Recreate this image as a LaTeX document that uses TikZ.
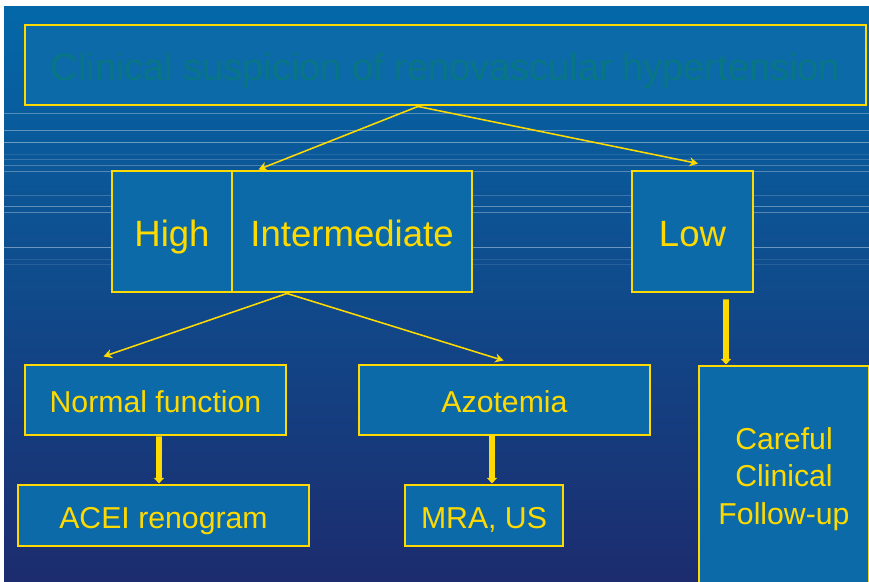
\documentclass[tikz,border=0pt]{standalone}
\usepackage{fontspec}
\setmainfont{Liberation Sans}
\usetikzlibrary{
  arrows.meta,
  calc
}
\definecolor{slidetop}{RGB}{4,104,168}
\definecolor{slidemid}{RGB}{2,74,140}
\definecolor{slidebot}{RGB}{28,44,110}
\definecolor{boxfill}{RGB}{12,106,168}
\definecolor{gold}{RGB}{255,218,0}
\definecolor{teal}{RGB}{8,118,132}
\newcommand{\pxu}{0.025cm}
\tikzset{
  box/.style={
    draw=gold,
    fill=boxfill,
    line width=2.1pt,
    inner sep=0pt,
    align=center,
    text=gold
  },
  big/.style={font=\fontsize{26}{31}\selectfont,text height=22pt,text depth=0pt},
  mid/.style={font=\fontsize{21.5}{26.5}\selectfont},
  one line/.style={text height=17.8pt,text depth=0pt},
  thin flow/.style={-{Stealth[length=6pt,width=6.5pt]},line width=1.1pt,draw=gold},
  thick flow/.style={-{Triangle[length=4pt,width=7pt]},line width=4pt,draw=gold}
}

\begin{document}
\begin{tikzpicture}[x=\pxu,y=-\pxu]
  \clip (0,0) rectangle (869,582);
  \fill[white] (0,0) rectangle (869,582);
  \shade[top color=slidetop,middle color=slidemid,bottom color=slidebot] (4,7) rectangle (869,582);
  % faint rules on the slide
  \foreach \ry/\op in {113/0.3,130/0.35,142/0.4,154/0.1,159/0.18,165/0.25,171/0.3,
                       195/0.18,206/0.35,212/0.3,247/0.4,259/0.1,264/0.1}
    \draw[white,opacity=\op,line width=0.6pt] (4,\ry) -- (869,\ry);

  \node[box,minimum width=841*\pxu,minimum height=80*\pxu,text=teal,
    font=\fontsize{27}{32}\selectfont,text height=21.4pt,text depth=0pt] (title) at (445.5,65)
    {Clinical suspicion of renovascular hypertension};

  \node[box,big,minimum width=120*\pxu,minimum height=121*\pxu] (high) at (172,231.5) {High};
  \node[box,big,minimum width=240*\pxu,minimum height=121*\pxu] (inter) at (352,231.5) {Intermediate};
  \node[box,big,minimum width=121*\pxu,minimum height=121*\pxu] (low) at (692.5,231.5) {Low};

  \node[box,mid,one line,minimum width=261*\pxu,minimum height=70*\pxu] (normal) at (155.5,400) {Normal function};
  \node[box,mid,one line,minimum width=291*\pxu,minimum height=70*\pxu] (azot) at (504.5,400) {Azotemia};
  \node[box,mid,one line,minimum width=291*\pxu,minimum height=61*\pxu] (acei) at (163.5,515.5) {ACEI renogram};
  \node[box,mid,one line,minimum width=158*\pxu,minimum height=61*\pxu] (mra) at (484,515.5) {MRA, US};
  \node[box,mid,minimum width=170*\pxu,minimum height=226*\pxu] (careful) at (784,479)
    {Careful\\Clinical\\Follow-up};

  \draw[thin flow] ($(title.south)+(-27.5,0)$) -- ($(inter.north west)+(28,0)$);
  \draw[thin flow] ($(title.south)+(-27.5,0)$) -- ($(low.north)+(5.5,-6)$);
  \draw[thin flow] ($(inter.south)+(-65,0)$) -- ($(normal.north west)+(80,-7)$);
  \draw[thin flow] ($(inter.south)+(-65,0)$) -- ($(azot.north west)+(146,-3)$);

  \draw[thick flow] ($(normal.south)+(3.5,0)$) -- ($(acei.north)+(-4.5,0)$);
  \draw[thick flow] ($(azot.south)+(-12.5,0)$) -- ($(mra.north)+(8,0)$);
  \draw[thick flow] ($(low.south)+(33.5,6)$) -- ($(careful.north)+(-58,0)$);
\end{tikzpicture}
\end{document}
